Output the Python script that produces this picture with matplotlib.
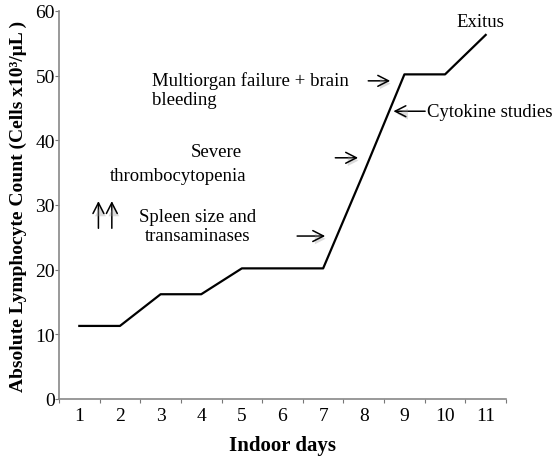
import matplotlib.pyplot as plt
import matplotlib.patheffects as pe

days = [1, 2, 3, 4, 5, 6, 7, 8, 9, 10, 11]
counts = [11.3, 11.3, 16.2, 16.2, 20.2, 20.2, 20.2, 35.0, 50.2, 50.2, 56.3]

serif = ['Liberation Serif', 'DejaVu Serif']
plt.rcParams['font.family'] = serif

fig = plt.figure(figsize=(5.54, 4.6), dpi=100)
ax = fig.add_axes([59 / 554, 1 - 400 / 460, (506 - 59) / 554, (400 - 12) / 460])

ax.plot(days, counts, color='black', linewidth=1.6)

ax.set_xlim(0.5, 11.5)
ax.set_ylim(0, 60)
ax.set_yticks(range(0, 61, 10))
# category axis: ticks between days, labels centred on days
ax.set_xticks([d - 0.5 for d in days] + [11.5])
ax.set_xticklabels([])
ax.set_xticks(days, minor=True)
ax.set_xticklabels([str(d) for d in days], minor=True)
ax.tick_params(axis='x', which='minor', length=0, pad=6, labelsize=14)
ax.tick_params(axis='x', which='major', length=3, color='#777777')
ax.tick_params(axis='y', length=3, color='#777777', labelsize=14, pad=0)

for side in ['top', 'right']:
    ax.spines[side].set_visible(False)
for side in ['left', 'bottom']:
    ax.spines[side].set_color('#888888')
    ax.spines[side].set_linewidth(1.2)

ax.set_xlabel('Indoor days', fontsize=15, fontweight='bold', labelpad=8)
ax.set_ylabel('Absolute Lymphocyte Count (Cells x10³/μL )', fontsize=14,
              fontweight='bold', labelpad=6)

fs = 13.5
ax.text(10.87, 58.3, 'Exitus', ha='center', va='center', fontsize=fs)
ax.text(2.79, 47.9, 'Multiorgan failure + brain\nbleeding', ha='left',
        va='center', fontsize=fs, linespacing=1.15)
ax.text(9.56, 44.4, 'Cytokine studies', ha='left', va='center', fontsize=fs)
ax.text(4.37, 38.2, 'Severe', ha='center', va='center', fontsize=fs)
ax.text(3.43, 34.5, 'thrombocytopenia', ha='center', va='center', fontsize=fs)
ax.text(3.9, 26.8, 'Spleen size and\ntransaminases', ha='center',
        va='center', fontsize=fs, linespacing=1.15)

shadow = [pe.SimplePatchShadow(offset=(1.5, -2), shadow_rgbFace='#999999',
                               alpha=0.35), pe.Normal()]
arrow = dict(arrowstyle='->,head_length=0.55,head_width=0.28', color='black',
             lw=1.1, mutation_scale=14, shrinkA=0, shrinkB=0,
             path_effects=shadow)
ax.annotate('', xy=(8.65, 49.2), xytext=(8.11, 49.2), arrowprops=arrow)
ax.annotate('', xy=(8.73, 44.5), xytext=(9.51, 44.5), arrowprops=arrow)
ax.annotate('', xy=(7.86, 37.3), xytext=(7.30, 37.3), arrowprops=arrow)
ax.annotate('', xy=(7.05, 25.2), xytext=(6.36, 25.2), arrowprops=arrow)
ax.annotate('', xy=(1.47, 30.6), xytext=(1.47, 26.4), arrowprops=arrow)
ax.annotate('', xy=(1.80, 30.6), xytext=(1.80, 26.4), arrowprops=arrow)

fig.savefig('out.png', dpi=100)
